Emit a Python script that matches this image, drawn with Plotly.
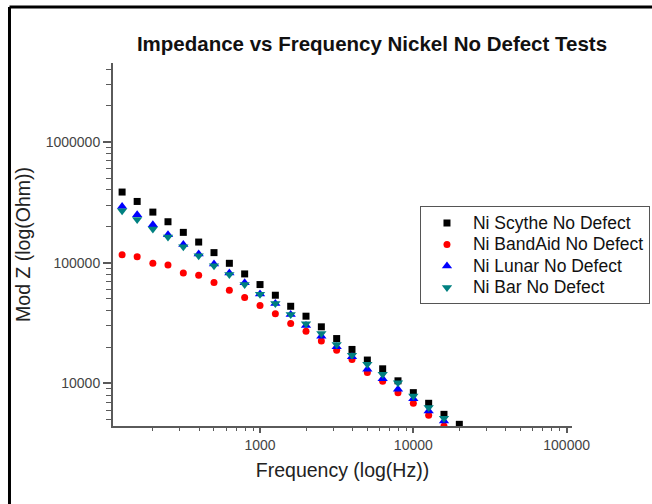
import plotly.graph_objects as go

# Frequencies (Hz)
freq = [126, 158, 200, 251, 316, 398, 501, 631, 794, 1000, 1259, 1585, 1995,
        2512, 3162, 3981, 5012, 6310, 7943, 10000, 12589, 15849, 19953]

scythe = [384000, 321000, 262000, 218000, 178000, 148000, 121000, 98700, 80600,
          65800, 53700, 43500, 36000, 29400, 23500, 19100, 15600, 13200, 10500,
          8380, 6840, 5540, 4580]
bandaid = [116000, 112000, 98700, 95700, 82200, 78500, 68300, 59000, 51400,
           44100, 37700, 31300, 27000, 22400, 18800, 15800, 12300, 10400, 8380,
           6840, 5440, 4440]
lunar = [292000, 249000, 206000, 170000, 141000, 118000, 97600, 82200, 68000,
         54900, 45800, 37200, 30200, 24600, 20100, 16600, 13100, 10900, 8920,
         7470, 5900, 4880]
bar = [269000, 227000, 190000, 163000, 135000, 114000, 94400, 79600, 65800,
       54800, 45800, 37200, 31100, 25900, 21000, 17100, 14400, 11900, 10100,
       7850, 6300, 5140]

series_names = ["Ni Scythe No Defect", "Ni BandAid No Defect",
                "Ni Lunar No Defect", "Ni Bar No Defect"]

x_tickvals = [1000, 10000, 100000]
x_ticktext = ["1000", "10000", "100000"]
x_minor = [200, 300, 400, 500, 600, 700, 800, 900,
           2000, 3000, 4000, 5000, 6000, 7000, 8000, 9000,
           20000, 30000, 40000, 50000, 60000, 70000, 80000, 90000]
y_tickvals = [10000, 100000, 1000000]
y_ticktext = ["10000", "100000", "1000000"]
y_minor = [5000, 6000, 7000, 8000, 9000,
           20000, 30000, 40000, 50000, 60000, 70000, 80000, 90000,
           200000, 300000, 400000, 500000, 600000, 700000, 800000, 900000,
           2000000, 3000000, 4000000]

fig = go.Figure()
styles = [
    dict(symbol="square", color="#000000", size=7),
    dict(symbol="circle", color="#ff0000", size=7),
    dict(symbol="triangle-up", color="#0000ff", size=9),
    dict(symbol="triangle-down", color="#008080", size=9),
]
data = [scythe, bandaid, lunar, bar]
for name, vals, st in zip(series_names, data, styles):
    fig.add_trace(go.Scatter(
        x=freq[:len(vals)], y=vals, mode="markers",
        name="<span style='font-size:17.5px'>" + name + "</span>",
        marker=dict(symbol=st["symbol"], color=st["color"], size=st["size"],
                    line=dict(width=0)),
    ))

axis_col = "#5a5a5a"
font_fam = "Liberation Sans, Arial, sans-serif"

fig.update_layout(
    width=652, height=504,
    margin=dict(l=113, r=80, t=63, b=78, autoexpand=False),
    paper_bgcolor="white", plot_bgcolor="white",
    font=dict(family=font_fam, color="#333333"),
    title=dict(text="<b>Impedance vs Frequency Nickel No Defect Tests</b>",
               x=372 / 652, xref="container", xanchor="center",
               y=1 - 44 / 504, yref="container", yanchor="middle",
               font=dict(size=20.5, color="#111111", family=font_fam)),
    xaxis=dict(type="log", range=[2.041, 5.035], tickmode="array",
               tickvals=x_tickvals, ticktext=x_ticktext,
               ticks="outside", ticklen=5, tickwidth=1.5, tickcolor=axis_col,
               showline=True, linecolor=axis_col, linewidth=2,
               showgrid=False, zeroline=False,
               tickfont=dict(size=14, color="#444444"),
               minor=dict(tickmode="array", tickvals=x_minor, ticks="outside",
                          ticklen=3, tickwidth=1.2, tickcolor=axis_col, showgrid=False),
               title=dict(text="Frequency (log(Hz))", font=dict(size=19.5, color="#222222"),
                          standoff=12),
               automargin=False),
    yaxis=dict(type="log", range=[3.647, 6.653], tickmode="array",
               tickvals=y_tickvals, ticktext=y_ticktext,
               ticks="outside", ticklen=8, tickwidth=1.5, tickcolor=axis_col,
               showline=True, linecolor=axis_col, linewidth=2,
               showgrid=False, zeroline=False,
               tickfont=dict(size=14, color="#444444"),
               minor=dict(tickmode="array", tickvals=y_minor, ticks="outside",
                          ticklen=5, tickwidth=1.2, tickcolor=axis_col, showgrid=False),
               title=dict(text="Mod Z (log(Ohm))", font=dict(size=19.5, color="#222222"),
                          standoff=10),
               automargin=False),
    legend=dict(x=0.6688, y=0.6052, xanchor="left", yanchor="top",
                bordercolor="#555555", borderwidth=1, bgcolor="white",
                itemwidth=42,
                font=dict(size=14.2, color="#111111")),
    showlegend=True,
)

# outer frame lines (left and top)
fig.add_shape(type="line", xref="paper", yref="paper",
              x0=-0.2255, y0=1.1543, x1=1.25, y1=1.1543,
              line=dict(color="black", width=3))
fig.add_shape(type="line", xref="paper", yref="paper",
              x0=-0.2255, y0=1.1543, x1=-0.2255, y1=-0.25,
              line=dict(color="black", width=3))

fig.write_html("out.html", config={"displayModeBar": False},
               post_script="document.body.style.margin='0';document.body.style.overflow='hidden';")
